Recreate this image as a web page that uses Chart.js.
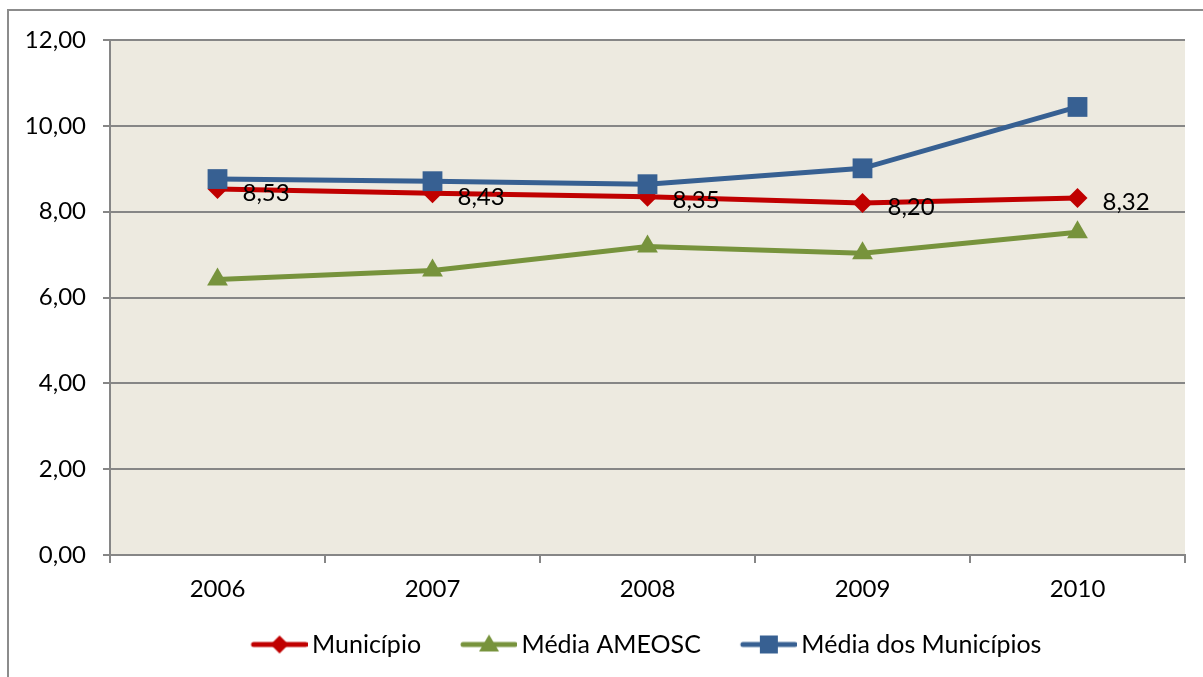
<!DOCTYPE html>
<html>
<head>
<meta charset="utf-8">
<script src="https://cdn.jsdelivr.net/npm/chart.js@4.4.0/dist/chart.umd.min.js"></script>
<style>
  html, body { margin: 0; padding: 0; background: #fff; }
  body { width: 1203px; height: 677px; position: relative; overflow: hidden; }
  .frame { position: absolute; left: 7px; top: 9px; width: 1300px; height: 800px; border: 2px solid #8c8c8c; }
  #wrap { position: absolute; left: 0; top: 0; width: 1203px; height: 677px; }
</style>
</head>
<body>
<div class="frame"></div>
<div id="wrap"><canvas id="ChartIndice"></canvas></div>
<script>
// values
var years = ['2006', '2007', '2008', '2009', '2010'];
var municipio = [8.53, 8.43, 8.35, 8.20, 8.32];
var mediaAmeosc = [6.42, 6.63, 7.19, 7.03, 7.52];
var mediaMunicipios = [8.76, 8.71, 8.64, 9.01, 10.44];
var yTicks = [0, 2, 4, 6, 8, 10, 12];

var FONT = 'Lato, "Open Sans", sans-serif';
var GRID = '#868686';

function FormatNumber(v) {
    return v.toFixed(2).replace('.', ',');
}

// small picture for the legend: a line with the marker in the middle
function LegendIcon(color, shape) {
    var c = document.createElement('canvas');
    c.width = 76;
    c.height = 24;
    var ctx = c.getContext('2d');
    var cx = 20 + 28, cy = 12;
    ctx.strokeStyle = color;
    ctx.fillStyle = color;
    ctx.lineWidth = 5;
    ctx.lineCap = 'round';
    ctx.beginPath();
    ctx.moveTo(22, cy);
    ctx.lineTo(74, cy);
    ctx.stroke();
    ctx.beginPath();
    if (shape == 'diamond') {
        ctx.moveTo(cx, cy - 9); ctx.lineTo(cx + 9, cy); ctx.lineTo(cx, cy + 9); ctx.lineTo(cx - 9, cy);
    } else if (shape == 'triangle') {
        ctx.moveTo(cx, cy - 10); ctx.lineTo(cx + 10, cy + 7); ctx.lineTo(cx - 10, cy + 7);
    } else {
        ctx.rect(cx - 9, cy - 9, 18, 18);
    }
    ctx.closePath();
    ctx.fill();
    return c;
}

var icons = [
    LegendIcon('#C00000', 'diamond'),
    LegendIcon('#77933C', 'triangle'),
    LegendIcon('#376092', 'square')
];

var plotBackground = {
    id: 'plotBackground',
    beforeDraw: function (chart) {
        var a = chart.chartArea;
        var ctx = chart.ctx;
        ctx.save();
        ctx.fillStyle = '#EDEAE0';
        ctx.fillRect(a.left, a.top, a.right - a.left, a.bottom - a.top);
        ctx.restore();
    }
};

// the legend sits a bit right of the middle in the original
var legendShift = {
    id: 'legendShift',
    afterLayout: function (chart) {
        chart.legend.left += 48;
        chart.legend.right += 48;
    }
};

var valueLabels = {
    id: 'valueLabels',
    afterDatasetsDraw: function (chart) {
        var ctx = chart.ctx;
        var meta = chart.getDatasetMeta(0);
        ctx.save();
        ctx.fillStyle = '#000';
        ctx.font = '24px ' + FONT;
        ctx.textAlign = 'left';
        ctx.textBaseline = 'middle';
        meta.data.forEach(function (pt, i) {
            ctx.fillText(FormatNumber(municipio[i]), pt.x + 25, pt.y + 4);
        });
        ctx.restore();
    }
};

var ctx = document.getElementById('ChartIndice').getContext('2d');

var graph = new Chart(ctx, {
    type: 'line',
    data: {
        labels: years,
        datasets: [
            {
                label: 'Município',
                data: municipio,
                borderColor: '#C00000',
                backgroundColor: '#C00000',
                borderWidth: 5,
                pointStyle: 'rectRot',
                pointRadius: 10,
                pointBorderWidth: 0,
                order: 1
            },
            {
                label: 'Média AMEOSC',
                data: mediaAmeosc,
                borderColor: '#77933C',
                backgroundColor: '#77933C',
                borderWidth: 5,
                pointStyle: 'triangle',
                pointRadius: 12,
                pointBorderWidth: 0,
                order: 2
            },
            {
                label: 'Média dos Municípios',
                data: mediaMunicipios,
                borderColor: '#376092',
                backgroundColor: '#376092',
                borderWidth: 5,
                pointStyle: 'rect',
                pointRadius: 14,
                pointBorderWidth: 0,
                order: 0
            }
        ]
    },
    options: {
        responsive: true,
        maintainAspectRatio: false,
        animation: false,
        events: [],
        layout: { padding: { left: 0, top: 40, right: 18, bottom: 10 } },
        elements: { line: { tension: 0 } },
        scales: {
            x: {
                offset: true,
                grid: { offset: true, drawOnChartArea: false, drawTicks: true, tickLength: 8, color: GRID, lineWidth: 2 },
                border: { color: GRID, width: 2 },
                ticks: { color: '#000', font: { family: FONT, size: 24 }, padding: 12 },
                afterFit: function (scale) { scale.height = 49; }
            },
            y: {
                min: 0,
                max: 12,
                afterBuildTicks: function (scale) {
                    scale.ticks = yTicks.map(function (v) { return { value: v }; });
                },
                grid: { color: GRID, lineWidth: 2, tickLength: 7 },
                border: { color: GRID, width: 2 },
                ticks: {
                    color: '#000',
                    font: { family: FONT, size: 24 },
                    padding: 17,
                    callback: function (v) { return FormatNumber(v); }
                },
                afterFit: function (scale) { scale.width = 110; }
            }
        },
        plugins: {
            tooltip: { enabled: false },
            legend: {
                position: 'bottom',
                labels: {
                    color: '#000',
                    font: { family: FONT, size: 25 },
                    usePointStyle: true,
                    pointStyleWidth: 60,
                    padding: 28,
                    generateLabels: function (chart) {
                        return chart.data.datasets.map(function (ds, i) {
                            return {
                                text: ds.label,
                                pointStyle: icons[i],
                                fontColor: '#000',
                                datasetIndex: i,
                                hidden: false,
                                lineWidth: 0
                            };
                        });
                    }
                }
            }
        }
    },
    plugins: [plotBackground, legendShift, valueLabels]
});
</script>
</body>
</html>
